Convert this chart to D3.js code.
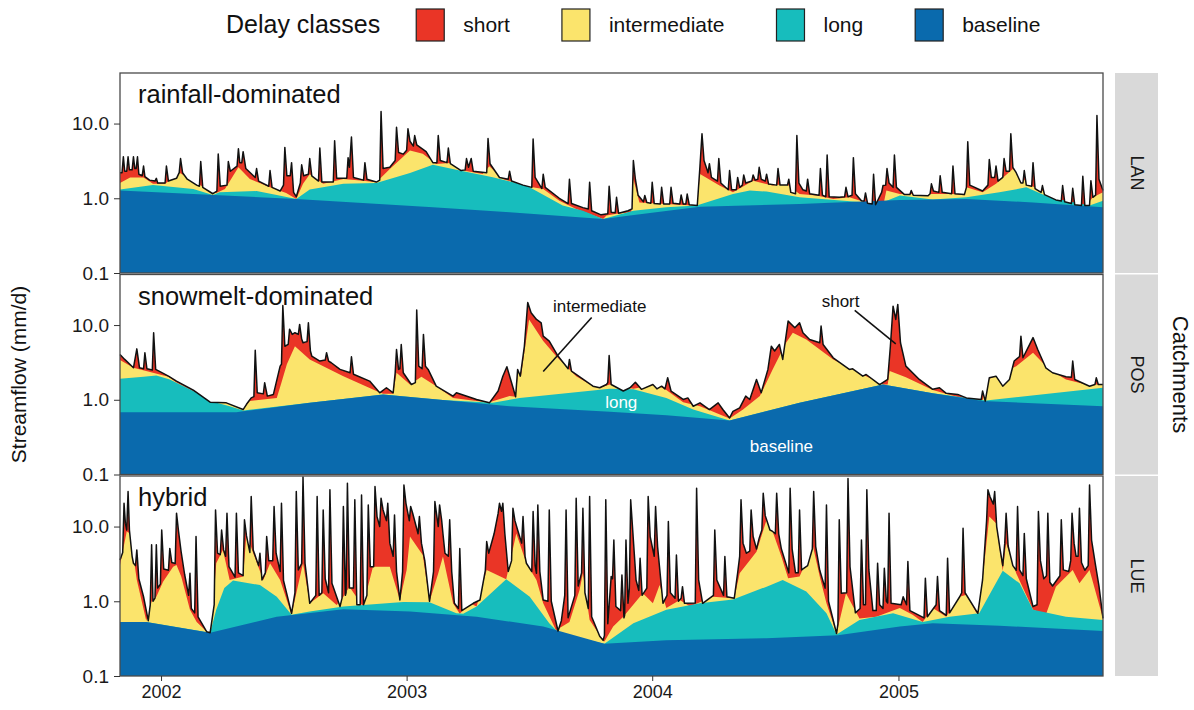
<!DOCTYPE html>
<html>
<head>
<meta charset="utf-8">
<script src="https://cdn.jsdelivr.net/npm/d3@7"></script>
<style>
  body { margin: 0; background: #fff; }
  svg text { font-family: "Liberation Sans", Arial, sans-serif; }
</style>
</head>
<body>
<div id="chart"></div>
<script>
// ---------- data ----------
// days are counted from 2001-11-01, flows in mm/d
const startDay = new Date(2001, 10, 1);
const nDays = 1461;
const classNames = ["short", "intermediate", "long", "baseline"];
const classColors = ["#ea3526", "#fbe46c", "#17bdbd", "#0a6aad"];
const catchments = ["LAN", "POS", "LUE"];
const regimes = ["rainfall-dominated", "snowmelt-dominated", "hybrid"];
const yTicks = [0.1, 1, 10];
const xTicks = [2002, 2003, 2004, 2005];

// LAN, rainfall-dominated
const lanFlow = [[0,2.2],[3,2.2],[5,3.6],[7,2.3],[10,2.3],[12,3.6],[14,2.4],[18,2.4],[20,3.6],[22,2.5],[24,2.5],[26,3.6],[28,2.1],[33,2.0],[35,2.7],[37,1.95],[44,1.75],[52,1.7],[54,1.85],[56,1.6],[67,1.6],[69,2.7],[72,1.7],[84,1.85],[88,2.2],[90,3.4],[93,2.2],[100,1.8],[114,1.5],[118,1.45],[120,3.1],[123,1.4],[138,1.15],[144,1.25],[146,3.9],[149,1.45],[159,1.5],[161,3.1],[164,2.3],[174,2.7],[176,4.6],[178,3.0],[181,3.0],[183,4.2],[187,2.5],[201,1.9],[203,2.5],[206,1.7],[221,1.45],[223,2.35],[226,1.4],[238,1.25],[243,1.5],[245,4.8],[248,2.0],[253,2.0],[255,3.0],[258,1.2],[262,1.05],[268,1.6],[270,2.8],[273,2.0],[280,2.1],[282,3.4],[285,2.0],[295,1.7],[297,4.7],[300,1.65],[317,1.65],[319,5.9],[322,1.85],[337,1.85],[339,3.5],[341,2.6],[344,6.6],[347,1.9],[362,1.75],[364,3.0],[367,1.8],[381,1.65],[386,1.75],[388,14.5],[391,2.5],[401,2.6],[409,3.2],[411,8.9],[414,4.1],[421,3.9],[426,4.4],[428,8.5],[431,5.8],[436,5.0],[438,6.9],[441,5.2],[455,4.2],[465,3.0],[471,3.0],[473,6.9],[476,3.2],[486,3.0],[488,4.7],[491,2.9],[507,2.35],[513,2.4],[515,3.4],[518,2.6],[522,3.4],[525,2.3],[545,2.2],[547,6.3],[550,2.9],[564,1.9],[577,1.8],[579,2.3],[582,1.7],[599,1.5],[612,1.4],[614,6.2],[617,1.9],[627,1.35],[629,2.1],[632,1.4],[653,1.0],[666,0.85],[668,1.8],[671,0.85],[688,0.75],[696,0.72],[698,1.64],[701,0.68],[715,0.6],[725,0.62],[727,1.45],[730,0.65],[736,0.64],[738,1.03],[741,0.63],[755,0.68],[761,0.72],[763,3.2],[766,1.8],[770,1.1],[778,0.9],[780,1.09],[783,0.88],[789,0.86],[791,1.64],[794,0.85],[803,0.84],[805,1.4],[808,0.84],[817,0.84],[819,1.4],[822,0.86],[832,0.84],[834,1.11],[837,0.84],[841,0.84],[843,1.14],[846,0.82],[858,0.8],[862,2.7],[865,7.3],[868,3.2],[874,2.2],[876,2.9],[879,1.9],[888,1.7],[890,3.4],[893,1.6],[904,1.3],[906,2.35],[909,1.3],[916,1.3],[918,1.9],[921,1.4],[925,1.5],[927,2.05],[930,1.6],[939,1.7],[941,2.05],[944,1.75],[948,1.8],[950,2.6],[953,1.8],[959,1.7],[961,2.1],[964,1.55],[976,1.5],[978,2.5],[981,1.5],[992,1.5],[994,1.8],[997,1.2],[1004,1.15],[1006,6.9],[1009,1.6],[1015,1.3],[1020,1.25],[1022,1.8],[1025,1.15],[1039,1.1],[1041,2.5],[1044,1.1],[1049,1.05],[1051,3.8],[1054,1.05],[1069,1.03],[1077,1.05],[1079,1.4],[1082,1.05],[1088,1.1],[1090,3.5],[1093,1.15],[1102,0.93],[1106,0.92],[1108,1.18],[1111,0.86],[1118,0.84],[1120,2.1],[1123,0.82],[1132,1.2],[1134,1.48],[1138,1.5],[1140,2.5],[1143,1.6],[1149,1.4],[1151,3.8],[1154,1.4],[1166,1.12],[1174,1.12],[1176,1.27],[1179,1.1],[1201,1.08],[1204,1.15],[1206,1.56],[1209,1.25],[1217,1.2],[1219,2.0],[1222,1.2],[1236,1.15],[1238,2.7],[1241,1.15],[1255,1.12],[1258,1.4],[1260,5.7],[1263,1.5],[1282,1.25],[1290,1.5],[1292,3.3],[1295,1.9],[1300,1.9],[1302,2.7],[1305,1.7],[1312,1.9],[1314,3.4],[1317,2.3],[1322,2.3],[1324,7.3],[1327,2.6],[1332,2.2],[1339,1.6],[1342,1.6],[1344,2.35],[1347,1.5],[1355,1.45],[1357,3.0],[1360,1.35],[1369,1.2],[1371,1.48],[1374,1.12],[1391,0.95],[1399,0.92],[1401,1.48],[1404,0.9],[1414,0.85],[1416,1.36],[1419,0.82],[1429,0.8],[1431,1.97],[1434,0.8],[1441,0.8],[1443,1.72],[1446,1.03],[1450,1.1],[1452,12.8],[1455,1.8],[1461,1.27]];
const lanInter = [[0,1.6],[15,1.9],[35,1.9],[49,1.56],[67,1.56],[89,2.18],[109,1.72],[134,1.23],[143,1.18],[156,1.33],[176,2.6],[193,1.81],[223,1.4],[247,1.18],[262,0.98],[272,1.56],[282,2.1],[302,1.56],[332,1.81],[361,1.72],[381,1.64],[401,2.47],[431,4.35],[450,3.93],[470,2.88],[490,2.97],[510,2.35],[539,2.12],[549,2.68],[569,1.81],[604,1.45],[629,1.33],[653,0.93],[678,0.72],[718,0.53],[723,0.59],[738,0.62],[760,0.65],[763,1.81],[772,0.88],[812,0.84],[852,0.8],[858,0.8],[862,2.12],[891,1.48],[911,1.2],[941,1.72],[970,1.48],[990,1.56],[1010,1.14],[1035,1.09],[1060,0.98],[1084,1.03],[1109,0.88],[1124,0.81],[1135,0.85],[1139,1.27],[1159,1.14],[1208,1.14],[1238,1.14],[1255,1.1],[1258,1.4],[1282,1.2],[1302,1.56],[1327,2.47],[1352,1.51],[1381,1.14],[1406,0.9],[1436,0.8],[1446,1.03],[1461,1.2]];
const lanLong = [[0,1.31],[49,1.51],[109,1.33],[138,1.11],[148,1.2],[203,1.25],[233,1.11],[262,0.98],[282,1.31],[332,1.56],[381,1.6],[431,2.18],[465,2.82],[505,2.35],[554,1.91],[604,1.48],[658,0.8],[688,0.68],[718,0.53],[763,0.68],[812,0.76],[857,0.8],[911,1.14],[936,1.27],[961,1.23],[1010,1.03],[1109,0.88],[1124,0.81],[1159,1.09],[1208,0.96],[1258,1.03],[1307,1.2],[1347,1.4],[1381,1.03],[1441,0.8],[1461,0.93]];
const lanBase = [[0,1.27],[262,0.98],[465,0.76],[579,0.65],[718,0.53],[758,0.59],[862,0.77],[1010,0.84],[1159,0.95],[1258,0.98],[1357,0.88],[1461,0.76]];

// POS, snowmelt-dominated
const posFlow = [[0,4.05],[7,3.47],[20,2.68],[25,4.8],[29,2.68],[35,2.6],[37,4.25],[40,2.6],[48,2.5],[50,7.9],[53,2.55],[72,2.07],[84,1.78],[109,1.35],[134,0.93],[158,0.91],[183,0.74],[188,0.87],[195,1.06],[199,1.1],[201,4.6],[204,1.24],[213,1.2],[215,1.69],[219,1.12],[228,1.18],[238,2.82],[240,3.0],[242,18.3],[245,5.2],[250,5.5],[252,8.8],[256,7.5],[260,7.9],[265,7.5],[267,10.2],[270,6.5],[272,5.8],[278,6.0],[280,10.7],[283,4.5],[285,3.85],[297,3.3],[305,3.4],[307,4.26],[310,3.3],[314,3.13],[327,2.55],[342,2.3],[344,3.77],[347,2.2],[371,1.78],[386,1.24],[396,1.45],[406,1.24],[409,2.3],[411,4.7],[414,2.55],[416,2.6],[418,5.5],[421,2.3],[433,1.6],[439,1.7],[441,15.9],[444,2.82],[449,2.6],[451,7.5],[454,2.8],[458,2.55],[470,1.52],[495,1.12],[500,1.24],[530,1.01],[549,0.91],[562,1.31],[569,2.07],[575,2.77],[582,1.69],[588,1.1],[591,2.55],[595,2.07],[601,5.2],[606,20],[611,14.6],[619,11.9],[626,10.7],[629,7.1],[638,6.1],[651,3.85],[666,2.6],[668,3.47],[671,2.42],[703,1.52],[713,1.45],[723,1.6],[725,1.7],[727,3.92],[730,1.6],[748,1.31],[758,1.45],[766,1.72],[775,1.38],[792,1.6],[798,1.4],[805,1.52],[810,1.4],[814,1.97],[819,1.31],[837,1.01],[844,1.06],[852,0.82],[862,0.91],[876,0.74],[889,0.91],[896,0.74],[906,0.57],[911,0.7],[921,0.78],[930,1.12],[936,1.01],[946,1.87],[953,1.24],[963,2.55],[968,5.2],[973,4.5],[980,5.5],[985,3.47],[993,11.3],[1003,9.2],[1010,10.7],[1015,7.9],[1025,6.4],[1040,5.8],[1042,9.7],[1045,5.5],[1060,3.65],[1084,2.55],[1089,2.6],[1104,2.07],[1109,2.18],[1129,1.6],[1141,1.87],[1145,5.2],[1149,17.9],[1153,11.9],[1156,18.9],[1160,5.8],[1168,2.82],[1188,1.87],[1208,1.38],[1218,1.45],[1228,1.22],[1245,1.18],[1258,1.06],[1280,1.01],[1282,1.31],[1286,0.96],[1292,1.97],[1302,2.07],[1312,1.52],[1322,1.87],[1329,3.3],[1337,3.8],[1339,7.1],[1342,3.65],[1352,5.5],[1357,6.8],[1364,4.7],[1376,2.68],[1386,2.3],[1406,2.03],[1414,2.0],[1416,3.3],[1419,1.87],[1441,1.52],[1449,1.6],[1451,1.97],[1454,1.6],[1461,1.6]];
const posInter = [[0,3.4],[20,2.68],[49,2.3],[72,2.03],[84,1.7],[109,1.3],[134,0.93],[158,0.93],[183,0.74],[193,0.96],[233,1.06],[240,1.7],[248,3.0],[260,5.2],[282,3.46],[332,2.07],[381,1.31],[391,1.2],[406,1.2],[411,2.3],[431,1.6],[448,2.03],[470,1.52],[495,1.06],[530,0.96],[549,0.93],[579,1.12],[588,1.1],[592,2.5],[596,2.1],[602,5.0],[608,11.9],[629,6.1],[648,3.85],[678,2.07],[703,1.52],[713,1.45],[728,1.6],[763,1.4],[797,1.6],[812,1.35],[837,0.93],[862,0.82],[906,0.56],[926,0.74],[951,1.12],[970,2.55],[990,5.8],[1000,7.9],[1020,6.4],[1060,3.47],[1109,2.07],[1134,1.6],[1141,1.6],[1144,2.42],[1168,2.0],[1208,1.35],[1258,1.01],[1282,0.98],[1290,1.87],[1332,2.82],[1357,4.26],[1381,2.55],[1406,1.87],[1436,1.6],[1461,1.6]];
const posLong = [[0,1.91],[35,2.03],[54,2.12],[74,1.87],[109,1.31],[134,0.96],[163,0.82],[183,0.72],[282,0.91],[391,1.18],[480,0.99],[554,0.91],[594,1.06],[728,1.4],[763,1.38],[812,1.06],[852,0.74],[906,0.53],[1010,0.91],[1134,1.6],[1208,1.22],[1287,0.98],[1461,1.45]];
const posBase = [[0,0.68],[173,0.68],[183,0.7],[282,0.91],[391,1.18],[480,0.99],[579,0.82],[728,0.69],[812,0.62],[906,0.53],[1010,0.91],[1134,1.6],[1208,1.22],[1282,0.96],[1461,0.82]];

// LUE, hybrid
const lueFlow = [[0,3.58],[4,4.5],[6,20.5],[8,11.1],[10,9.0],[12,29.4],[14,9.0],[18,4.0],[20,3.23],[23,3.0],[25,4.87],[28,2.0],[35,1.15],[42,0.55],[45,0.9],[47,5.7],[49,1.0],[52,1.1],[54,5.7],[56,1.5],[60,1.7],[62,9.0],[65,2.7],[72,2.6],[74,5.1],[77,3.3],[82,3.2],[84,15.1],[87,8.6],[91,4.5],[96,2.3],[102,1.2],[104,2.37],[106,0.8],[111,0.7],[113,7.35],[116,0.62],[129,0.39],[134,0.38],[140,0.9],[142,16.7],[145,4.4],[149,4.2],[151,9.0],[154,4.87],[157,4.0],[159,15.1],[162,2.9],[171,2.1],[173,15.1],[176,2.4],[183,2.2],[185,12.3],[188,7.5],[193,4.5],[195,25.2],[198,4.87],[206,3.0],[208,4.4],[211,1.93],[216,2.4],[218,7.35],[221,3.5],[227,3.5],[229,18.6],[232,4.4],[238,2.5],[240,20.5],[243,1.9],[255,0.69],[260,1.3],[262,29.4],[265,2.63],[270,3.2],[272,46],[275,3.23],[282,0.94],[291,1.2],[293,25.2],[296,1.2],[300,1.3],[302,16.7],[305,2.0],[310,1.3],[312,31],[315,1.74],[327,0.85],[330,1.1],[332,18.6],[335,1.2],[336,1.3],[338,38],[341,1.5],[347,1.5],[349,22.8],[352,0.9],[357,0.9],[359,26.5],[362,0.9],[367,1.2],[369,19.5],[372,2.9],[377,2.9],[379,34.4],[382,13.6],[386,10],[388,24],[391,16.7],[396,12],[398,20.5],[401,6.0],[406,4.0],[408,14.3],[411,2.5],[416,1.04],[420,2.5],[422,36],[425,20.5],[430,12],[432,18.6],[435,15.1],[443,8.0],[445,13.6],[448,6.0],[453,3.5],[460,1.0],[466,2.5],[468,21.6],[471,13.6],[473,10],[475,19.5],[478,12.3],[480,8.0],[483,4.4],[488,4.0],[490,12.3],[493,2.5],[497,0.94],[503,0.8],[505,5.1],[508,0.75],[525,0.94],[535,1.04],[543,2.6],[545,6.3],[548,4.4],[556,8.0],[562,15],[564,20.5],[567,16],[569,20.5],[572,8.0],[577,2.5],[582,3.5],[584,17.6],[587,12],[591,9.0],[597,6.0],[599,13.6],[602,4.0],[604,3.23],[612,2.5],[614,15.9],[617,3.0],[619,2.37],[621,19.5],[624,2.5],[629,1.04],[636,1.0],[638,16.7],[641,1.0],[651,0.4],[656,0.55],[661,1.2],[663,16.7],[666,0.6],[676,1.2],[678,24],[681,1.6],[686,2.4],[688,17.6],[691,1.3],[696,0.8],[698,25.2],[701,0.62],[713,0.34],[718,0.3],[720,0.35],[722,22.8],[725,0.5],[730,2.14],[732,2.0],[734,6.6],[737,0.85],[744,0.75],[746,2.25],[749,0.6],[750,0.65],[752,6.6],[755,0.94],[757,1.5],[759,22.8],[762,9.0],[767,1.93],[771,1.4],[773,3.77],[776,1.2],[783,1.5],[785,25.2],[788,7.35],[794,4.0],[796,18.6],[799,5.4],[807,0.94],[813,1.2],[815,11.7],[818,1.3],[825,1.1],[827,4.17],[830,1.0],[834,1.1],[836,1.57],[839,0.94],[855,0.95],[857,32.6],[860,1.93],[866,0.94],[882,1.2],[884,9.0],[887,1.93],[897,1.2],[899,3.96],[902,1.15],[913,1.1],[918,2.4],[921,4.0],[923,22.8],[926,6.0],[931,4.4],[936,4.7],[938,16.7],[941,7.35],[946,5.0],[950,7.0],[954,9.0],[956,27.9],[959,14],[961,12.3],[966,9.0],[970,8.6],[974,8.0],[976,27.9],[979,8.0],[983,5.0],[994,2.4],[996,32.6],[999,5.0],[1004,2.4],[1008,2.4],[1010,16.7],[1013,2.63],[1022,3.0],[1029,5.0],[1031,29.4],[1034,5.4],[1040,2.6],[1048,1.5],[1050,19.5],[1053,1.0],[1065,0.37],[1067,0.5],[1069,12.3],[1072,1.28],[1080,1.3],[1082,44],[1085,2.9],[1093,0.7],[1100,0.8],[1102,6.6],[1105,0.9],[1108,0.9],[1110,31],[1113,2.63],[1119,0.75],[1124,0.75],[1126,3.23],[1129,0.9],[1134,0.8],[1136,2.77],[1139,1.0],[1141,0.95],[1143,15.1],[1146,0.94],[1161,0.9],[1164,1.15],[1169,0.9],[1171,3.4],[1174,0.75],[1195,0.6],[1197,2.03],[1200,0.62],[1213,0.9],[1215,2.14],[1218,0.75],[1228,0.65],[1230,3.77],[1233,0.7],[1248,1.15],[1251,1.3],[1253,9.5],[1256,1.3],[1275,0.69],[1282,1.93],[1288,12],[1290,31],[1293,25.2],[1298,20],[1300,29.4],[1303,10],[1308,5.0],[1312,3.0],[1315,6.0],[1317,15.1],[1320,5.5],[1327,3.0],[1332,2.6],[1334,18.6],[1337,2.63],[1342,2.2],[1344,8.1],[1347,2.0],[1357,0.85],[1363,0.9],[1365,15.9],[1368,3.5],[1373,2.0],[1377,2.2],[1379,15.1],[1382,1.8],[1386,1.6],[1397,2.2],[1399,12.3],[1402,2.63],[1410,2.5],[1413,3.5],[1415,15.1],[1418,6.0],[1421,4.0],[1424,4.0],[1426,17.6],[1429,3.3],[1434,2.6],[1439,3.0],[1441,36],[1444,6.6],[1450,3.0],[1455,1.6],[1461,0.59]];
const lueInter = [[0,3.07],[10,8.6],[15,8.1],[25,1.93],[39,0.55],[47,0.99],[54,1.15],[64,1.83],[79,2.9],[84,3.07],[91,2.14],[104,0.77],[114,0.53],[129,0.39],[138,0.77],[143,3.23],[153,4.87],[163,1.93],[183,2.14],[188,8.1],[198,4.4],[213,1.93],[223,3.23],[238,1.93],[255,0.66],[262,1.28],[272,3.23],[282,0.94],[302,1.28],[322,0.89],[332,1.15],[341,1.57],[361,0.85],[376,2.9],[401,2.9],[416,1.04],[426,2.63],[431,7.35],[450,4.17],[460,0.99],[473,2.37],[480,3.96],[495,0.94],[505,0.68],[520,0.94],[530,0.85],[545,2.63],[574,1.97],[589,8.1],[604,3.23],[619,1.93],[629,0.94],[648,0.41],[668,0.53],[683,1.42],[688,2.37],[698,0.56],[718,0.3],[720,0.29],[733,0.46],[748,0.62],[777,1.28],[792,0.94],[802,1.65],[812,0.81],[832,1.04],[847,0.85],[881,1.15],[913,1.1],[921,2.37],[946,4.6],[961,12.3],[970,8.6],[983,3.96],[993,2.03],[1010,2.14],[1030,5.4],[1040,2.14],[1050,0.94],[1065,0.37],[1079,1.28],[1099,0.59],[1124,0.62],[1159,0.81],[1178,0.66],[1193,0.53],[1208,0.81],[1228,0.62],[1248,1.15],[1258,1.22],[1273,0.69],[1282,1.93],[1292,13.6],[1302,11.1],[1312,2.57],[1317,6.0],[1332,2.37],[1357,0.77],[1376,0.66],[1391,1.57],[1416,2.63],[1426,1.74],[1441,2.63],[1461,0.59]];
const lueLong = [[0,0.53],[39,0.53],[134,0.38],[143,0.77],[155,1.5],[168,1.89],[208,1.65],[233,1.15],[255,0.66],[282,0.73],[332,0.85],[421,0.98],[460,0.97],[500,0.69],[510,0.68],[530,0.85],[574,1.97],[609,1.15],[638,0.51],[653,0.37],[720,0.27],[763,0.51],[812,0.77],[862,0.94],[911,1.06],[961,1.57],[985,1.93],[1020,1.35],[1050,0.69],[1065,0.36],[1099,0.56],[1149,0.69],[1193,0.53],[1233,0.62],[1277,0.69],[1312,2.57],[1337,1.74],[1357,0.77],[1406,0.62],[1461,0.56]];
const lueBase = [[0,0.53],[39,0.53],[134,0.38],[233,0.62],[332,0.78],[431,0.73],[530,0.62],[629,0.46],[720,0.27],[812,0.3],[961,0.32],[1067,0.35],[1159,0.46],[1208,0.51],[1307,0.47],[1461,0.4]];

// annotations in the POS panel: [day, mm/d]
const noteLabels = ["intermediate", "short", "long", "baseline"];
const noteAt = [[713, 17.6], [1071, 20.5], [745, 0.91], [983, 0.24]];
const noteLines = [[[701, 12.6], [629, 2.39]], [[1092, 15.7], [1153, 5.6]]];

const panels = [
  {flow: lanFlow, inter: lanInter, long: lanLong, base: lanBase},
  {flow: posFlow, inter: posInter, long: posLong, base: posBase},
  {flow: lueFlow, inter: lueInter, long: lueLong, base: lueBase}
];

// ---------- layout ----------
let margin = {top: 73, left: 120},
  width = 983,
  panelH = 200,
  panelGap = 1.5;

let svg = d3.select("#chart")
  .append("svg")
  .attr("width", 1194)
  .attr("height", 710);

let dayToDate = d => d3.timeDay.offset(startDay, d);

let x = d3.scaleTime()
  .domain([startDay, dayToDate(nDays)])
  .range([0, width]);

let y = d3.scaleLog()
  .domain([0.1, 47.5])
  .range([panelH, 0]);

let area = d3.area()
  .x(d => x(dayToDate(d[0])))
  .y0(panelH)
  .y1(d => y(d[1]));

let line = d3.line()
  .x(d => x(dayToDate(d[0])))
  .y(d => y(d[1]));

panels.forEach(function (p, i) {
  let g = svg.append("g")
    .attr("transform", "translate(" + margin.left + "," + (margin.top + i * (panelH + panelGap)) + ")");

  // every class is clipped under the observed flow
  g.append("clipPath").attr("id", "flow" + i)
    .append("path").attr("d", area(p.flow));

  let layers = g.append("g").attr("clip-path", "url(#flow" + i + ")");
  [p.flow, p.inter, p.long, p.base].forEach(function (s, k) {
    layers.append("path")
      .attr("d", area(s))
      .attr("fill", classColors[k]);
  });

  g.append("path")
    .attr("d", line(p.flow))
    .attr("fill", "none")
    .attr("stroke", "#111")
    .attr("stroke-width", 1.5)
    .attr("stroke-linejoin", "round");

  g.append("rect")
    .attr("width", width)
    .attr("height", panelH)
    .attr("fill", "none")
    .attr("stroke", "#4a4a4a")
    .attr("stroke-width", 1.3);

  // y axis
  let ya = g.append("g")
    .call(d3.axisLeft(y).tickValues(yTicks).tickFormat(d3.format(".1f")).tickSize(6).tickPadding(5));
  ya.select(".domain").remove();
  ya.selectAll("line").attr("stroke", "#333");
  ya.selectAll("text").attr("font-size", 19).attr("fill", "#1a1a1a")
    .style("font-family", "Liberation Sans, Arial, sans-serif");

  // panel title
  g.append("text")
    .attr("x", 18)
    .attr("y", 30)
    .attr("font-size", 25.5)
    .attr("fill", "#111")
    .text(regimes[i]);

  // facet strip
  g.append("rect")
    .attr("x", width + 12)
    .attr("width", 43)
    .attr("height", panelH)
    .attr("fill", "#d9d9d9");
  g.append("text")
    .attr("transform", "translate(" + (width + 12 + 21.5) + "," + (panelH / 2) + ") rotate(90)")
    .attr("text-anchor", "middle")
    .attr("dominant-baseline", "central")
    .attr("font-size", 18)
    .attr("fill", "#1a1a1a")
    .text(catchments[i]);

  if (i == 1) {
    noteLines.forEach(function (l) {
      g.append("line")
        .attr("x1", x(dayToDate(l[0][0]))).attr("y1", y(l[0][1]))
        .attr("x2", x(dayToDate(l[1][0]))).attr("y2", y(l[1][1]))
        .attr("stroke", "#111").attr("stroke-width", 1.6);
    });
    noteLabels.forEach(function (t, k) {
      g.append("text")
        .attr("x", x(dayToDate(noteAt[k][0])))
        .attr("y", y(noteAt[k][1]))
        .attr("text-anchor", "middle")
        .attr("dominant-baseline", "central")
        .attr("font-size", 17)
        .attr("fill", k < 2 ? "#111" : "#fff")
        .text(t);
    });
  }

  if (i == panels.length - 1) {
    let xa = g.append("g")
      .attr("transform", "translate(0," + panelH + ")")
      .call(d3.axisBottom(x)
        .tickValues(xTicks.map(yr => new Date(yr, 0, 1)))
        .tickFormat(d3.timeFormat("%Y"))
        .tickSize(5).tickPadding(4));
    xa.select(".domain").remove();
    xa.selectAll("line").attr("stroke", "#333");
    xa.selectAll("text").attr("font-size", 18).attr("fill", "#1a1a1a")
      .style("font-family", "Liberation Sans, Arial, sans-serif");
  }
});

let midY = margin.top + (3 * panelH + 2 * panelGap) / 2;

svg.append("text")
  .attr("transform", "translate(18," + midY + ") rotate(-90)")
  .attr("text-anchor", "middle")
  .attr("dominant-baseline", "central")
  .attr("font-size", 21)
  .attr("fill", "#111")
  .text("Streamflow (mm/d)");

svg.append("text")
  .attr("transform", "translate(1180," + midY + ") rotate(90)")
  .attr("text-anchor", "middle")
  .attr("dominant-baseline", "central")
  .attr("font-size", 22)
  .attr("fill", "#111")
  .text("Catchments");

// legend
let legend = svg.append("g").attr("transform", "translate(226,0)");
let title = legend.append("text")
  .attr("y", 33)
  .attr("font-size", 25)
  .attr("fill", "#111")
  .text("Delay classes");
let lx = title.node().getComputedTextLength() + 36;
classNames.forEach(function (c, k) {
  legend.append("rect")
    .attr("x", lx).attr("y", 9)
    .attr("width", 28).attr("height", 32)
    .attr("fill", classColors[k])
    .attr("stroke", "#222").attr("stroke-width", 1.2);
  let t = legend.append("text")
    .attr("x", lx + 47).attr("y", 32)
    .attr("font-size", 21)
    .attr("fill", "#111")
    .text(c);
  lx += 47 + t.node().getComputedTextLength() + 52;
});
</script>
</body>
</html>
